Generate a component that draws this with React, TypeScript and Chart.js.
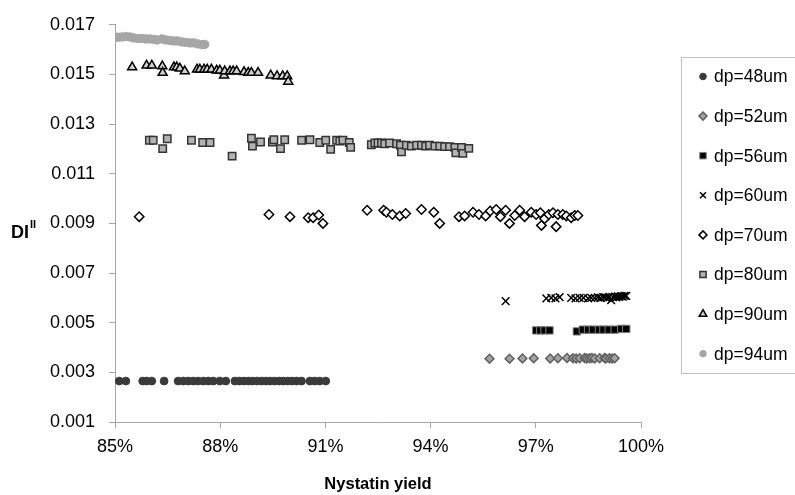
import React, { useEffect, useRef } from 'react';
import { Chart, registerables } from 'chart.js';
import * as helpers from 'chart.js/helpers';

Chart.register(...registerables);

const xTicks = [85, 88, 91, 94, 97, 100];
const yTicks = [0.001, 0.003, 0.005, 0.007, 0.009, 0.011, 0.013, 0.015, 0.017];
const seriesLabels = ['dp=48um', 'dp=52um', 'dp=56um', 'dp=60um', 'dp=70um', 'dp=80um', 'dp=90um', 'dp=94um'];

const yield48 = [85.12, 85.31, 85.79, 85.90, 86.05, 86.40, 86.80, 86.95, 87.09, 87.23, 87.37, 87.52, 87.66, 87.80, 87.99, 88.16, 88.42, 88.55, 88.68, 88.80, 88.92, 89.05, 89.18, 89.30, 89.42, 89.55, 89.68, 89.80, 89.93, 90.05, 90.18, 90.32, 90.56, 90.70, 90.84, 91.01];
const di48 = [0.00265, 0.00265, 0.00265, 0.00265, 0.00265, 0.00265, 0.00265, 0.00265, 0.00265, 0.00265, 0.00265, 0.00265, 0.00265, 0.00265, 0.00265, 0.00265, 0.00265, 0.00265, 0.00265, 0.00265, 0.00265, 0.00265, 0.00265, 0.00265, 0.00265, 0.00265, 0.00265, 0.00265, 0.00265, 0.00265, 0.00265, 0.00265, 0.00265, 0.00265, 0.00265, 0.00265];

const yield52 = [95.68, 96.25, 96.62, 96.94, 97.41, 97.63, 97.89, 98.06, 98.15, 98.25, 98.39, 98.45, 98.53, 98.60, 98.68, 98.82, 98.96, 99.00, 99.10, 99.18, 99.25];
const di52 = [0.00355, 0.00355, 0.00356, 0.00357, 0.00356, 0.00357, 0.00358, 0.00357, 0.00356, 0.00357, 0.00358, 0.00356, 0.00357, 0.00358, 0.00356, 0.00357, 0.00358, 0.00356, 0.00357, 0.00356, 0.00357];

const yield56 = [97.01, 97.13, 97.25, 97.39, 98.17, 98.34, 98.49, 98.63, 98.80, 98.93, 99.08, 99.25, 99.44, 99.58];
const di56 = [0.00469, 0.00469, 0.00469, 0.00469, 0.00465, 0.00472, 0.00472, 0.00472, 0.00472, 0.00472, 0.00472, 0.00472, 0.00475, 0.00475];

const yield60 = [96.14, 97.30, 97.44, 97.56, 97.68, 98.01, 98.13, 98.25, 98.36, 98.49, 98.58, 98.68, 98.77, 98.84, 98.92, 98.98, 99.05, 99.10, 99.15, 99.20, 99.25, 99.30, 99.34, 99.38, 99.44, 99.48, 99.53, 99.58];
const di60 = [0.00587, 0.00598, 0.00600, 0.00598, 0.00603, 0.00600, 0.00598, 0.00600, 0.00600, 0.00598, 0.00600, 0.00600, 0.00602, 0.00600, 0.00603, 0.00602, 0.00600, 0.00604, 0.00591, 0.00603, 0.00605, 0.00602, 0.00606, 0.00604, 0.00607, 0.00605, 0.00608, 0.00608];

const yield70 = [85.69, 89.39, 89.99, 90.51, 90.65, 90.81, 90.93, 92.19, 92.66, 92.74, 92.91, 93.12, 93.29, 93.74, 94.09, 94.26, 94.81, 94.97, 95.21, 95.38, 95.57, 95.70, 95.87, 95.99, 96.14, 96.25, 96.40, 96.54, 96.68, 96.87, 97.01, 97.13, 97.16, 97.25, 97.37, 97.49, 97.58, 97.63, 97.77, 97.87, 98.01, 98.11, 98.20];
const di70 = [0.00927, 0.00936, 0.00927, 0.00923, 0.00923, 0.00934, 0.00900, 0.00953, 0.00953, 0.00945, 0.00936, 0.00930, 0.00940, 0.00956, 0.00945, 0.00900, 0.00927, 0.00930, 0.00945, 0.00936, 0.00930, 0.00950, 0.00956, 0.00927, 0.00953, 0.00900, 0.00932, 0.00953, 0.00927, 0.00945, 0.00936, 0.00943, 0.00892, 0.00919, 0.00936, 0.00943, 0.00887, 0.00936, 0.00936, 0.00930, 0.00923, 0.00932, 0.00932];

const yield80 = [85.98, 86.09, 86.36, 86.49, 87.18, 87.50, 87.71, 88.34, 88.89, 88.92, 89.15, 89.49, 89.53, 89.72, 89.84, 90.32, 90.56, 90.84, 91.01, 91.15, 91.32, 91.41, 91.50, 91.68, 91.72, 92.31, 92.41, 92.50, 92.60, 92.69, 92.83, 93.03, 93.14, 93.17, 93.31, 93.45, 93.60, 93.74, 93.86, 93.97, 94.12, 94.26, 94.40, 94.54, 94.69, 94.72, 94.88, 94.92, 95.09];
const di80 = [0.01235, 0.01235, 0.01201, 0.01241, 0.01235, 0.01226, 0.01226, 0.01171, 0.01243, 0.01211, 0.01228, 0.01228, 0.01237, 0.01201, 0.01237, 0.01235, 0.01237, 0.01226, 0.01235, 0.01198, 0.01235, 0.01232, 0.01235, 0.01226, 0.01206, 0.01217, 0.01224, 0.01224, 0.01224, 0.01221, 0.01224, 0.01221, 0.01215, 0.01188, 0.01215, 0.01211, 0.01215, 0.01215, 0.01211, 0.01215, 0.01211, 0.01211, 0.01209, 0.01209, 0.01206, 0.01184, 0.01206, 0.01182, 0.01202];

const yield90 = [85.49, 85.90, 86.05, 86.35, 86.36, 86.68, 86.76, 86.85, 86.99, 87.34, 87.42, 87.54, 87.63, 87.75, 87.90, 87.99, 88.11, 88.13, 88.28, 88.37, 88.47, 88.68, 88.80, 88.89, 89.08, 89.44, 89.62, 89.78, 89.91, 89.94];
const di90 = [0.01529, 0.01536, 0.01536, 0.01533, 0.01507, 0.01529, 0.01529, 0.01524, 0.01513, 0.01520, 0.01520, 0.01520, 0.01520, 0.01520, 0.01516, 0.01516, 0.01496, 0.01513, 0.01513, 0.01513, 0.01513, 0.01510, 0.01507, 0.01507, 0.01507, 0.01496, 0.01493, 0.01493, 0.01493, 0.01471];

const yield94 = [85.00, 85.09, 85.20, 85.31, 85.43, 85.54, 85.66, 85.77, 85.88, 86.00, 86.11, 86.20, 86.34, 86.45, 86.57, 86.68, 86.79, 86.91, 87.02, 87.14, 87.25, 87.36, 87.48, 87.56];
const di94 = [0.01650, 0.01650, 0.01651, 0.01653, 0.01651, 0.01647, 0.01645, 0.01645, 0.01643, 0.01643, 0.01641, 0.01639, 0.01643, 0.01639, 0.01637, 0.01635, 0.01635, 0.01631, 0.01629, 0.01627, 0.01627, 0.01623, 0.01620, 0.01621];

const xs = [yield48, yield52, yield56, yield60, yield70, yield80, yield90, yield94];
const ys = [di48, di52, di56, di60, di70, di80, di90, di94];

const styles = [
  { pointStyle: 'circle', bg: '#3a3a3a', border: '#3a3a3a', radius: 3.9, bw: 1, lr: 3.3 },
  { pointStyle: 'rectRot', bg: '#a3a3a3', border: '#606060', radius: 4.4, bw: 1.5, lr: 4 },
  { pointStyle: 'rect', bg: '#000000', border: '#808080', radius: 5.2, bw: 1, lr: 4.6 },
  { pointStyle: 'crossRot', bg: '#000000', border: '#000000', radius: 5.4, bw: 1.5, lr: 4.2 },
  { pointStyle: 'rectRot', bg: '#ffffff', border: '#000000', radius: 4.7, bw: 1.5, lr: 4 },
  { pointStyle: 'rect', bg: '#b3b3b3', border: '#333333', radius: 5.2, bw: 1.5, lr: 4.4 },
  { pointStyle: 'triangle', bg: '#d0d0d0', border: '#000000', radius: 5.2, bw: 1.5, lr: 4.4 },
  { pointStyle: 'circle', bg: '#a6a6a6', border: '#a6a6a6', radius: 4.2, bw: 1, lr: 3.3 },
];

const FONT = '"Liberation Sans", Arial, sans-serif';

const annotPlugin = {
  id: 'annot',
  afterDraw(chart: any) {
    const ctx = chart.ctx;
    const area = chart.chartArea;
    ctx.save();
    ctx.fillStyle = '#000';
    ctx.textAlign = 'left';
    ctx.textBaseline = 'alphabetic';
    ctx.font = `bold 18px ${FONT}`;
    ctx.fillText('DI', 11, 238);
    const w = ctx.measureText('DI').width;
    ctx.font = `bold 11px ${FONT}`;
    ctx.fillText('II', 11 + w + 1, 228);

    ctx.font = `bold 16.5px ${FONT}`;
    ctx.textAlign = 'center';
    ctx.fillText('Nystatin yield', (area.left + area.right) / 2, 489);

    // legend
    ctx.strokeStyle = '#c0c0c0';
    ctx.lineWidth = 1;
    ctx.strokeRect(681.5, 57.5, 130, 316);
    ctx.textAlign = 'left';
    ctx.textBaseline = 'middle';
    ctx.font = `17.5px ${FONT}`;
    seriesLabels.forEach((lab, i) => {
      const y = 76.5 + i * 39.6;
      const s = styles[i];
      ctx.fillStyle = s.bg;
      ctx.strokeStyle = s.border;
      ctx.lineWidth = s.bw;
      helpers.drawPoint(ctx, { pointStyle: s.pointStyle, rotation: 0, radius: s.lr, borderWidth: s.bw }, 703, y);
      ctx.fillStyle = '#000';
      ctx.fillText(lab, 714, y + 1);
    });
    ctx.restore();
  },
};

export default function App() {
  const ref = useRef<HTMLCanvasElement | null>(null);
  useEffect(() => {
    if (!ref.current) return;
    const datasets = seriesLabels.map((lab, i) => ({
      label: lab,
      data: xs[i].map((x, j) => ({ x, y: ys[i][j] })),
      pointStyle: styles[i].pointStyle,
      pointRadius: styles[i].radius,
      pointBackgroundColor: styles[i].bg,
      pointBorderColor: styles[i].border,
      pointBorderWidth: styles[i].bw,
      showLine: false,
    }));
    const chart = new Chart(ref.current, {
      type: 'scatter',
      data: { datasets } as any,
      options: {
        responsive: false,
        animation: false,
        layout: { padding: { top: 20, right: 154, left: 0, bottom: 0 } },
        plugins: { legend: { display: false }, tooltip: { enabled: false } },
        scales: {
          x: {
            type: 'linear',
            min: 85,
            max: 100,
            afterBuildTicks: (s: any) => { s.ticks = xTicks.map((v) => ({ value: v })); },
            afterFit: (s: any) => { s.height = 73; },
            grid: { drawOnChartArea: false, drawTicks: true, tickLength: 6, color: '#a6a6a6', lineWidth: 1 },
            border: { display: true, color: '#a6a6a6', width: 1 },
            ticks: {
              color: '#000',
              font: { family: FONT, size: 18 },
              padding: 8,
              maxRotation: 0,
              autoSkip: false,
              callback: (v: any) => `${v}%`,
            },
          },
          y: {
            type: 'linear',
            min: 0.001,
            max: 0.017,
            afterBuildTicks: (s: any) => { s.ticks = yTicks.map((v) => ({ value: v })); },
            afterFit: (s: any) => { s.width = 115; },
            grid: { drawOnChartArea: false, drawTicks: true, tickLength: 6, color: '#a6a6a6', lineWidth: 1 },
            border: { display: true, color: '#a6a6a6', width: 1 },
            ticks: {
              color: '#000',
              font: { family: FONT, size: 18 },
              padding: 14,
              autoSkip: false,
              callback: (v: any) => Number(v).toFixed(3),
            },
          },
        },
      } as any,
      plugins: [annotPlugin],
    });
    return () => chart.destroy();
  }, []);
  return (
    <div style={{ position: 'fixed', left: 0, top: 0, width: 795, height: 495, background: '#fff' }}>
      <canvas ref={ref} width={795} height={495} />
    </div>
  );
}
